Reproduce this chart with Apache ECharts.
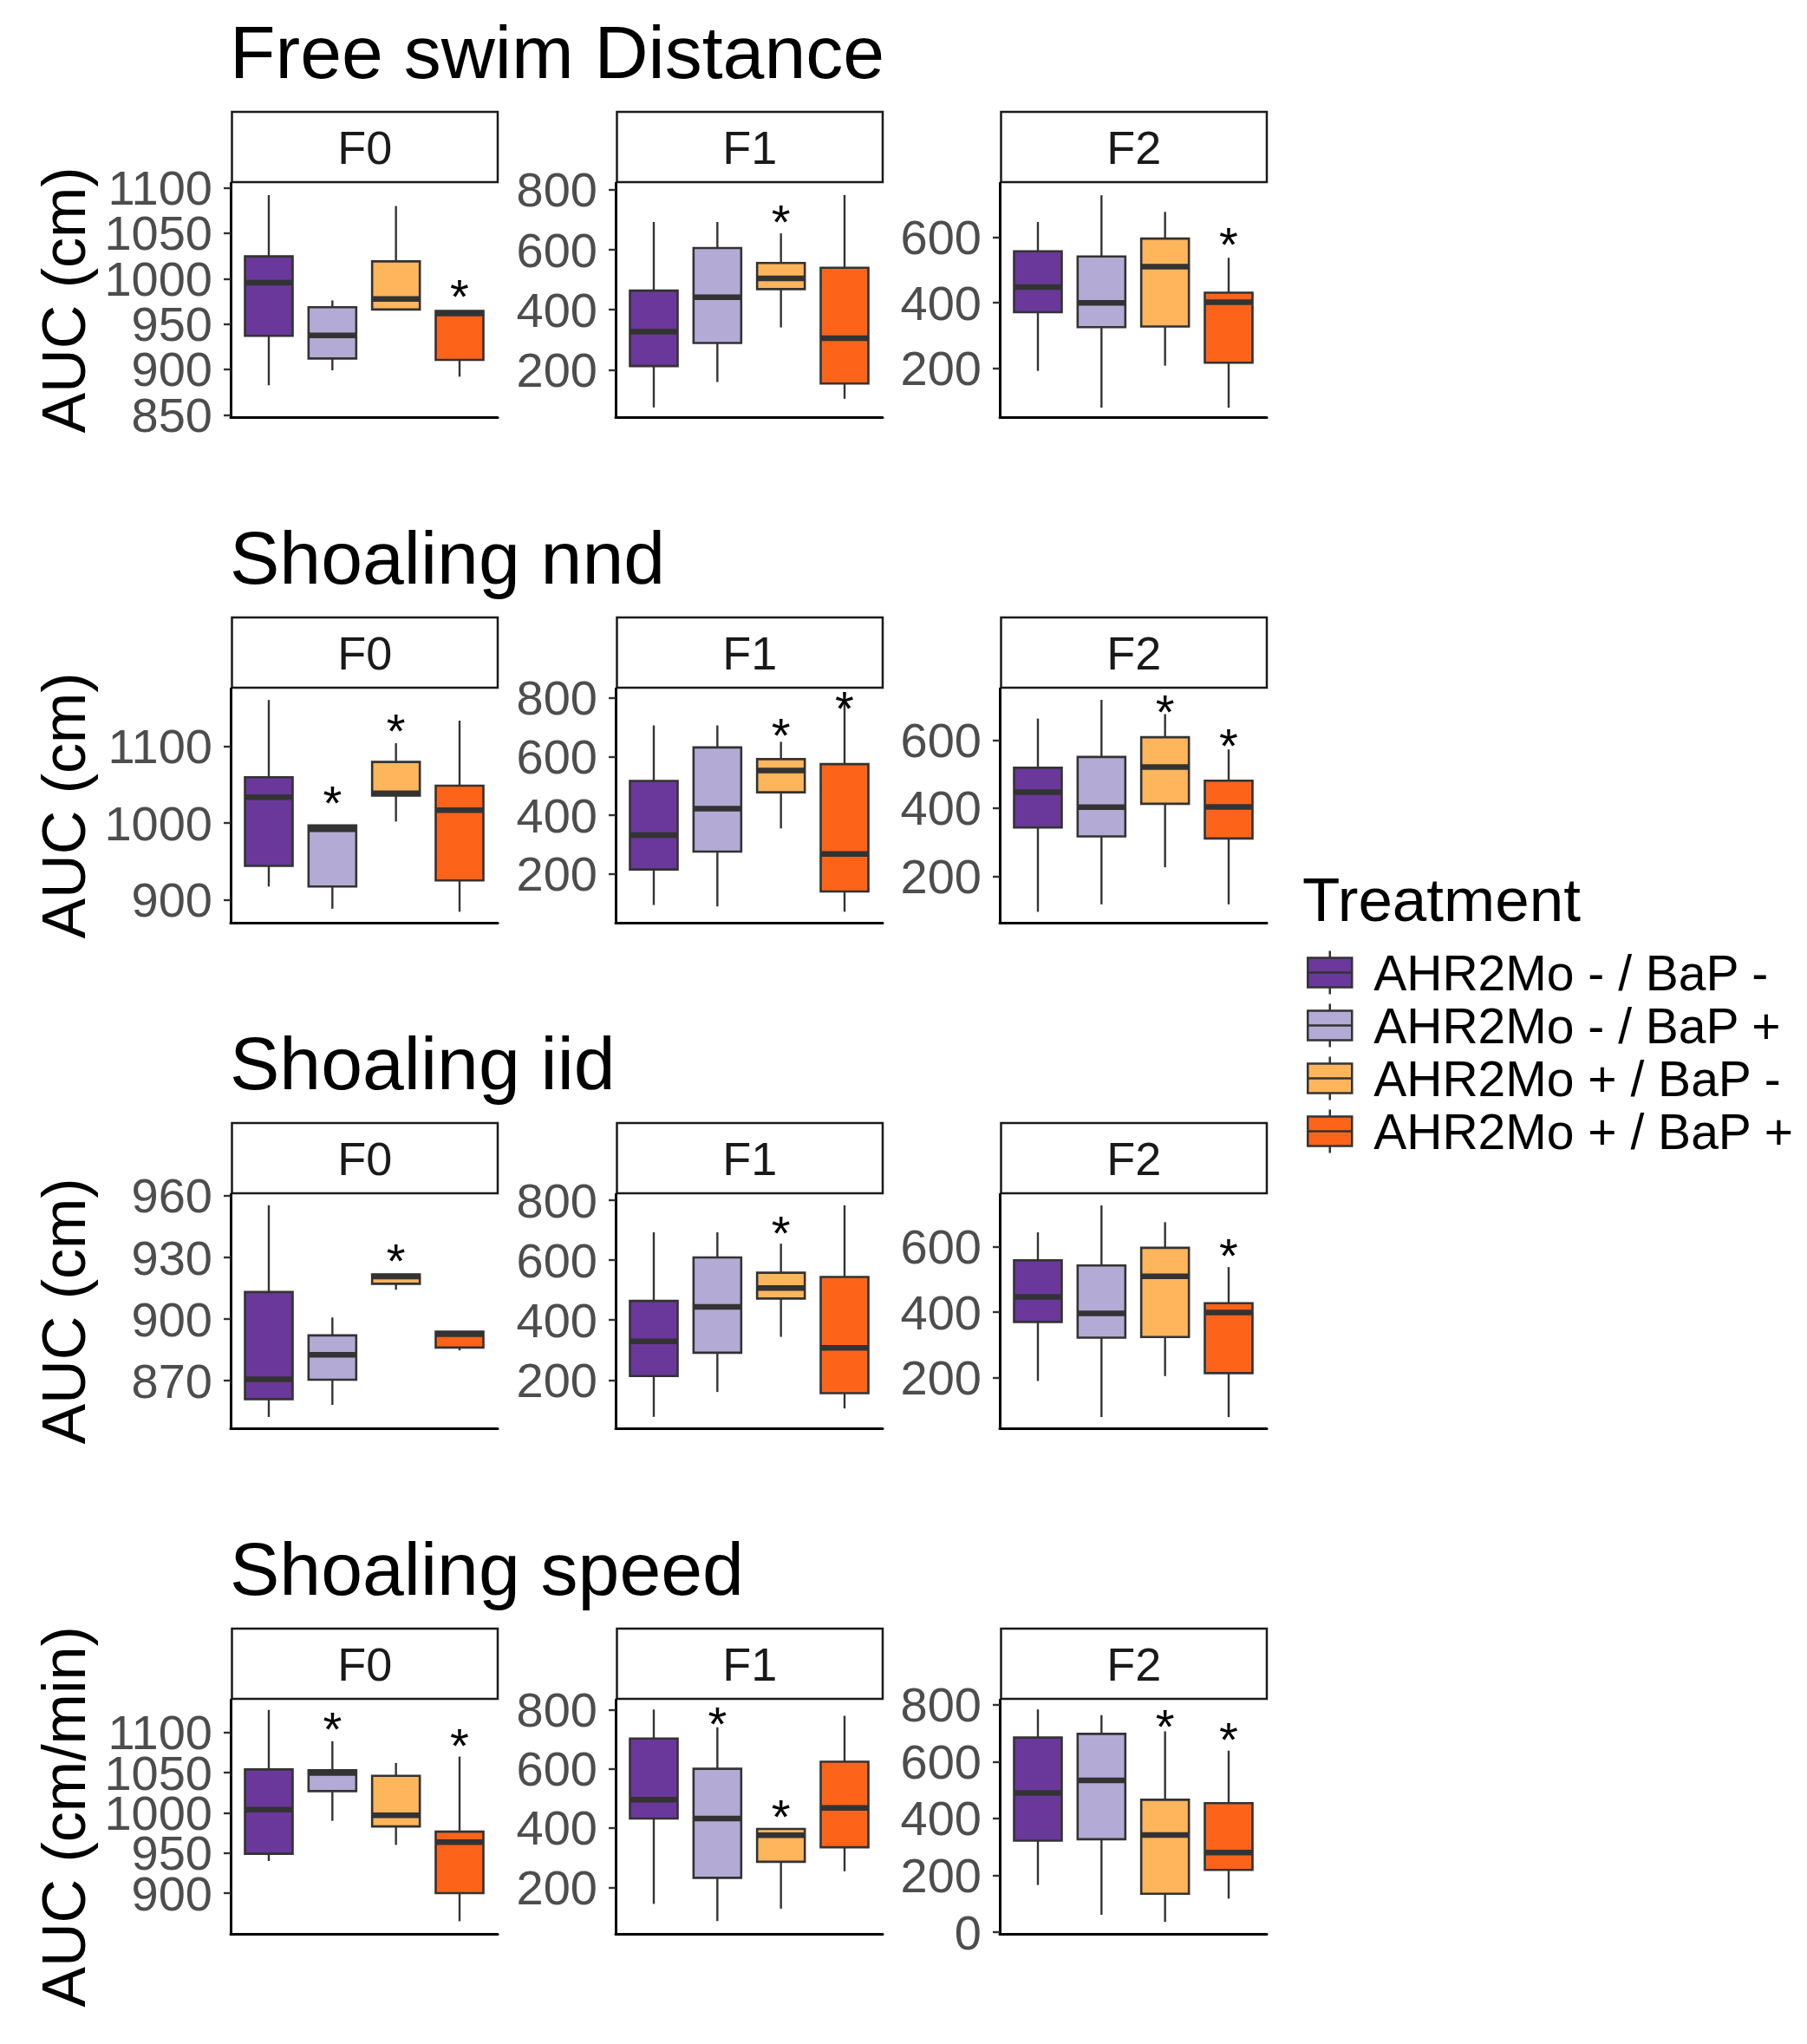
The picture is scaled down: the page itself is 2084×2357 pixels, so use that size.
<!DOCTYPE html>
<html>
<head>
<meta charset="utf-8">
<script src="https://cdn.jsdelivr.net/npm/echarts@6/dist/echarts.min.js"></script>
<style>
html,body{margin:0;padding:0;background:#fff;}
#chart{width:2084px;height:2357px;}
</style>
</head>
<body>
<div id="chart"></div>
<script>
// ---------------- DATA ----------------
const treatments = ['AHR2Mo - / BaP -', 'AHR2Mo - / BaP +', 'AHR2Mo + / BaP -', 'AHR2Mo + / BaP +'];
const generations = ['F0', 'F1', 'F2'];
const measures = ['Free swim Distance', 'Shoaling nnd', 'Shoaling iid', 'Shoaling speed'];
const yTitles = ['AUC (cm)', 'AUC (cm)', 'AUC (cm)', 'AUC (cm/min)'];
const legendTitle = 'Treatment';

// each box: [lower whisker, Q1, median, Q3, upper whisker], one per treatment
const freeSwimF0 = [[882.5, 937, 995.5, 1024.5, 1092], [899, 912, 937.5, 968.5, 976], [966, 966, 977.5, 1019, 1080], [892, 910.5, 961.5, 964.5, 964.5]];
const freeSwimF1 = [[74, 212, 327, 464, 693], [159, 289, 442, 606, 693], [341, 469, 505, 556, 655], [103, 154, 305, 540, 783]];
const freeSwimF2 = [[191, 371, 448, 558, 648], [78, 325, 400, 542, 730], [207, 327, 511, 597, 679], [78, 216, 402, 431, 538]];
const nndF0 = [[917, 944, 1034, 1060, 1161], [888, 917, 992, 997, 997], [1002, 1036, 1039, 1080, 1104.5], [884, 925, 1017, 1049, 1134]];
const nndF1 = [[94, 215, 332, 517, 706], [89, 276, 422, 631, 706], [355, 478, 552, 591, 650], [71, 140, 268, 574, 785]];
const nndF2 = [[95, 343, 447, 519, 664], [117, 317, 403, 551, 719], [226, 413, 521, 609, 677], [117, 311, 404, 481, 573]];
const iidF0 = [[852.4, 861.1, 870.7, 913.2, 955.4], [858.3, 870.5, 882.6, 892.1, 900.8], [914.3, 917.2, 920.7, 921.8, 921.8], [884.8, 886.2, 892.7, 893.9, 893.9]];
const iidF1 = [[77, 213, 329, 464, 693], [160, 291, 444, 609, 693], [344, 472, 507, 558, 655], [105, 156, 307, 544, 783]];
const iidF2 = [[190, 370, 446, 558, 643], [80, 322, 396, 542, 725], [205, 324, 509, 596, 674], [80, 214, 399, 427, 537]];
const speedF0 = [[940, 949, 1004, 1054, 1128], [990, 1027, 1049.5, 1053, 1089], [960, 983, 997, 1046, 1062], [865, 900, 963.5, 976.5, 1070]];
const speedF1 = [[144, 432, 496, 702, 800], [86, 232, 432, 600, 740], [128, 286, 376, 397, 397], [254, 335, 468, 624, 779]];
const speedF2 = [[166, 322, 490, 685, 784], [61, 327, 534, 698, 764], [36, 135, 342, 466, 707], [118, 219, 280, 454, 639]];

// significance asterisk heights (null = none)
const freeSwimF0Stars = [null, null, null, 992];
const freeSwimF1Stars = [null, null, 730, null];
const freeSwimF2Stars = [null, null, null, 611];
const nndF0Stars = [null, 1040, 1135, null];
const nndF1Stars = [null, null, 709, 800];
const nndF2Stars = [null, null, 715, 617];
const iidF0Stars = [null, null, 933.6, null];
const iidF1Stars = [null, null, 725, null];
const iidF2Stars = [null, null, null, 606];
const speedF0Stars = [null, 1117, null, 1097];
const speedF1Stars = [null, 788, 476, null];
const speedF2Stars = [null, null, 761, 716];

// y tick labels per panel
const freeSwimF0Ticks = [850, 900, 950, 1000, 1050, 1100];
const freeSwimF1Ticks = [200, 400, 600, 800];
const freeSwimF2Ticks = [200, 400, 600];
const nndF0Ticks = [900, 1000, 1100];
const nndF1Ticks = [200, 400, 600, 800];
const nndF2Ticks = [200, 400, 600];
const iidF0Ticks = [870, 900, 930, 960];
const iidF1Ticks = [200, 400, 600, 800];
const iidF2Ticks = [200, 400, 600];
const speedF0Ticks = [900, 950, 1000, 1050, 1100];
const speedF1Ticks = [200, 400, 600, 800];
const speedF2Ticks = [0, 200, 400, 600, 800];

// y axis ranges [min, max] per panel
const freeSwimF0Range = [847.4, 1105.4];
const freeSwimF1Range = [41.7, 823.1];
const freeSwimF2Range = [49.1, 767.6];
const nndF0Range = [869.7, 1176];
const nndF1Range = [33.6, 831.6];
const nndF2Range = [62.9, 752.4];
const iidF0Range = [846.9, 960.8];
const iidF1Range = [38.8, 820.3];
const iidF2Range = [45.9, 759.4];
const speedF0Range = [849.3, 1140.7];
const speedF1Range = [42.8, 833.1];
const speedF2Range = [-6.1, 818.3];

// ---------------- STYLE / LAYOUT ----------------
const COLORS = ['#6a389a', '#b3abd5', '#feb55c', '#fe6419'];
const EDGE = '#333333';
const FONT = "'Liberation Sans', Arial, sans-serif";
const ROW_TOP0 = 211, ROW_STEP = 583, PANEL_H = 270, PANEL_W = 308;
const COL_LEFT = [266, 710, 1153];

const rows = [
  [[freeSwimF0, freeSwimF0Stars, freeSwimF0Ticks, freeSwimF0Range], [freeSwimF1, freeSwimF1Stars, freeSwimF1Ticks, freeSwimF1Range], [freeSwimF2, freeSwimF2Stars, freeSwimF2Ticks, freeSwimF2Range]],
  [[nndF0, nndF0Stars, nndF0Ticks, nndF0Range], [nndF1, nndF1Stars, nndF1Ticks, nndF1Range], [nndF2, nndF2Stars, nndF2Ticks, nndF2Range]],
  [[iidF0, iidF0Stars, iidF0Ticks, iidF0Range], [iidF1, iidF1Stars, iidF1Ticks, iidF1Range], [iidF2, iidF2Stars, iidF2Ticks, iidF2Range]],
  [[speedF0, speedF0Stars, speedF0Ticks, speedF0Range], [speedF1, speedF1Stars, speedF1Ticks, speedF1Range], [speedF2, speedF2Stars, speedF2Ticks, speedF2Range]]
];

function renderBox(params, api) {
  const x = api.value(0);
  const c = v => api.coord([x, v]);
  const lo = c(api.value(1)), q1 = c(api.value(2)), md = c(api.value(3)), q3 = c(api.value(4)), hi = c(api.value(5));
  const half = api.size([1, 0])[0] * 0.75 / 2;
  const cx = lo[0];
  return {
    type: 'group',
    children: [
      {type: 'line', shape: {x1: cx, y1: hi[1], x2: cx, y2: q3[1]}, style: {stroke: EDGE, lineWidth: 2.4}},
      {type: 'line', shape: {x1: cx, y1: q1[1], x2: cx, y2: lo[1]}, style: {stroke: EDGE, lineWidth: 2.4}},
      {type: 'rect', shape: {x: cx - half, y: q3[1], width: 2 * half, height: q1[1] - q3[1]}, style: {fill: COLORS[x - 1], stroke: EDGE, lineWidth: 2.6}},
      {type: 'line', shape: {x1: cx - half, y1: md[1], x2: cx + half, y2: md[1]}, style: {stroke: EDGE, lineWidth: 6.5}}
    ]
  };
}

function renderStar(params, api) {
  const p = api.coord([api.value(0), api.value(1)]);
  return {
    type: 'text', x: p[0], y: p[1] + 12,
    style: {text: '*', fontSize: 56, fontFamily: FONT, fill: '#000', align: 'center', verticalAlign: 'middle'}
  };
}

const grids = [], xAxes = [], yAxes = [], series = [], elements = [];

function makeYAxis(gridIdx, range, ticks, name, showLine) {
  return {
    type: 'value', gridIndex: gridIdx, position: 'left', offset: 0, min: range[0], max: range[1],
    name: name, nameLocation: 'middle', nameRotate: 90, nameGap: 157,
    nameTextStyle: {fontSize: 70, color: '#000', fontFamily: FONT},
    axisLine: {show: showLine, onZero: false, lineStyle: {color: '#000', width: 3}},
    axisTick: {show: true, length: 8, customValues: ticks, lineStyle: {color: EDGE, width: 2.4}},
    axisLabel: {show: true, customValues: ticks, interval: 0, fontSize: 56, color: '#4d4d4d', fontFamily: FONT,
      margin: 21, hideOverlap: false, showMinLabel: true, showMaxLabel: true, formatter: v => String(v)},
    splitLine: {show: false}
  };
}

rows.forEach((row, r) => {
  const top = ROW_TOP0 + r * ROW_STEP;
  elements.push({type: 'text', x: 265, y: 60 + r * ROW_STEP,
    style: {text: measures[r], fontSize: 86, fontFamily: FONT, fill: '#000', align: 'left', verticalAlign: 'middle'}});
  row.forEach((panel, c) => {
    const [boxes, stars, ticks, range] = panel;
    const idx = grids.length;
    const left = COL_LEFT[c];
    grids.push({left: left, top: top, width: PANEL_W, height: PANEL_H});
    xAxes.push({
      type: 'value', gridIndex: idx, min: 0.4, max: 4.6,
      axisLine: {show: true, onZero: false, lineStyle: {color: '#000', width: 3}},
      axisTick: {show: false}, axisLabel: {show: false}, splitLine: {show: false}
    });
    // two label layers (alternate ticks) so tightly packed labels are all kept
    const evenTicks = ticks.filter((t, i) => i % 2 === 0);
    const oddTicks = ticks.filter((t, i) => i % 2 === 1);
    const yIdx = yAxes.length;
    yAxes.push(makeYAxis(idx, range, evenTicks, c === 0 ? yTitles[r] : '', true));
    yAxes.push(makeYAxis(idx, range, oddTicks, '', false));
    series.push({
      type: 'custom', xAxisIndex: idx, yAxisIndex: yIdx, silent: true,
      renderItem: renderBox,
      encode: {x: 0, y: [1, 2, 3, 4, 5]},
      data: boxes.map((b, i) => [i + 1].concat(b))
    });
    const starData = [];
    stars.forEach((s, i) => { if (s !== null) starData.push([i + 1, s]); });
    series.push({
      type: 'custom', xAxisIndex: idx, yAxisIndex: yIdx, silent: true,
      renderItem: renderStar, encode: {x: 0, y: 1}, data: starData
    });
    // facet strip
    elements.push({type: 'rect', shape: {x: left + 1.5, y: top - 82, width: PANEL_W - 1.5, height: 81},
      style: {fill: '#fff', stroke: '#1a1a1a', lineWidth: 2.5}});
    elements.push({type: 'text', x: left + 1.5 + (PANEL_W - 1.5) / 2, y: top - 41.5,
      style: {text: generations[c], fontSize: 54, fontFamily: FONT, fill: '#1a1a1a', align: 'center', verticalAlign: 'middle'}});
  });
});

// legend carrier series (no data, only names & colours)
treatments.forEach((t, i) => {
  series.push({type: 'custom', name: t, xAxisIndex: 0, yAxisIndex: 0, renderItem: renderBox, data: [],
    itemStyle: {color: COLORS[i], borderColor: EDGE, borderWidth: 2.5}});
});

elements.push({type: 'text', x: 1502, y: 1037,
  style: {text: legendTitle, fontSize: 71, fontFamily: FONT, fill: '#000', align: 'left', verticalAlign: 'middle'}});

const chart = echarts.init(document.getElementById('chart'), null, {renderer: 'svg'});
chart.setOption({
  animation: false,
  backgroundColor: '#fff',
  grid: grids,
  xAxis: xAxes,
  yAxis: yAxes,
  series: series,
  legend: {
    orient: 'vertical', left: 1507, top: 1093, padding: 0,
    itemWidth: 51, itemHeight: 50, itemGap: 4,
    icon: 'path://M0,8L51,8L51,42L0,42Z M0,25L51,25 M25.5,0L25.5,8 M25.5,42L25.5,50',
    itemStyle: {borderColor: EDGE, borderWidth: 2.5},
    textStyle: {fontSize: 57, lineHeight: 50, color: '#000', fontFamily: FONT, padding: [0, 0, 0, 20]},
    selectedMode: false,
    data: treatments
  },
  graphic: {elements: elements}
});
</script>
</body>
</html>
